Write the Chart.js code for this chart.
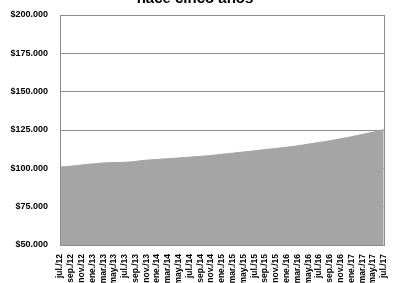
<!DOCTYPE html>
<html>
<head>
<meta charset="utf-8">
<script src="https://cdn.jsdelivr.net/npm/chart.js@4/dist/chart.umd.min.js"></script>
<style>
  html, body { margin: 0; padding: 0; background: #fff; }
  #wrap { width: 395px; height: 283px; overflow: hidden; position: relative; }
  #box { width: 395px; height: 293px; margin-top: -10px; }
</style>
</head>
<body>
<div id="wrap"><div id="box"><canvas id="salario"></canvas></div></div>
<script>
// meses de jul./12 a jul./17
const meses = ['jul.', 'ago.', 'sep.', 'oct.', 'nov.', 'dic.', 'ene.', 'feb.', 'mar.', 'abr.', 'may.', 'jun.'];
const categories = [];
for (let i = 0; i <= 60; i++) {
    const year = 12 + Math.floor((i + 6) / 12);
    categories.push(meses[i % 12] + '/' + year);
}
const salary = [
    100900, 101100, 101400, 101800, 102200, 102600, 102900, 103200, 103500, 103700,
    103800, 103800, 103900, 104200, 104500, 105000, 105300, 105600, 105800, 106100,
    106300, 106600, 106800, 107100, 107300, 107600, 107800, 108100, 108400, 108800,
    109200, 109500, 109900, 110300, 110700, 111000, 111400, 111800, 112300, 112600,
    113000, 113400, 113800, 114200, 114700, 115200, 115800, 116300, 116900, 117400,
    118000, 118600, 119300, 119900, 120600, 121400, 122100, 122900, 123600, 124400,
    125200
];
const yTicks = [50000, 75000, 100000, 125000, 150000, 175000, 200000];

const plotBox = {
    id: 'plotBox',
    afterDraw(chart) {
        const a = chart.chartArea, ctx = chart.ctx;
        ctx.save();
        ctx.strokeStyle = '#8c8c8c';
        ctx.lineWidth = 1;
        ctx.strokeRect(Math.round(a.left) + 0.5, Math.round(a.top) + 0.5,
            Math.round(a.right - a.left), Math.round(a.bottom - a.top));
        ctx.restore();
    }
};

new Chart(document.getElementById('salario'), {
    type: 'line',
    data: {
        labels: categories,
        datasets: [{
            label: 'Salario',
            data: salary,
            fill: 'start',
            backgroundColor: '#a5a5a5',
            borderColor: '#a5a5a5',
            borderWidth: 1,
            pointRadius: 0,
            tension: 0
        }]
    },
    options: {
        responsive: true,
        maintainAspectRatio: false,
        animation: false,
        layout: { padding: { left: 0, right: 5, top: 0, bottom: 0 } },
        plugins: {
            legend: { display: false },
            tooltip: { enabled: false },
            title: {
                display: true,
                text: 'hace cinco años',
                color: '#000',
                font: { family: 'Liberation Sans', size: 15, weight: 'bold' },
                padding: { top: 0, bottom: 7 }
            }
        },
        scales: {
            x: {
                offset: false,
                grid: { display: false },
                border: { display: false },
                afterFit: function (s) { s.height = 38; },
                ticks: {
                    autoSkip: false,
                    minRotation: 90,
                    maxRotation: 90,
                    padding: 1,
                    color: '#000',
                    font: { family: 'Liberation Sans', size: 8.5, weight: 'bold' },
                    callback: function (value, index) {
                        return index % 2 === 0 ? categories[index] : '';
                    }
                }
            },
            y: {
                min: 50000,
                max: 200000,
                afterFit: function (s) { s.width = 60; },
                afterBuildTicks: function (s) { s.ticks = yTicks.map(v => ({ value: v })); },
                grid: { color: '#8c8c8c', drawTicks: false },
                border: { display: false },
                ticks: {
                    padding: 12,
                    color: '#000',
                    font: { family: 'Liberation Sans', size: 9, weight: 'bold' },
                    callback: function (value) {
                        return '$' + value.toString().replace(/\B(?=(\d{3})+(?!\d))/g, '.');
                    }
                }
            }
        }
    },
    plugins: [plotBox]
});
</script>
</body>
</html>
